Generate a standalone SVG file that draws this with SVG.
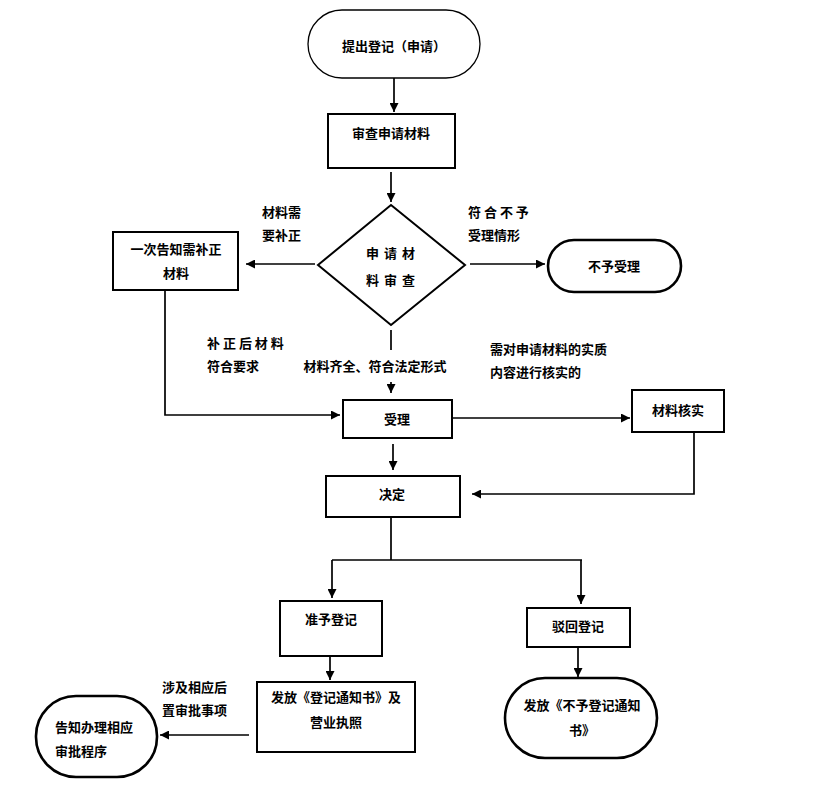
<svg xmlns="http://www.w3.org/2000/svg" width="818" height="801" viewBox="0 0 818 801">
<style>
.b{fill:#fff;stroke:#000;stroke-width:2}
.t{fill:#fff;stroke:#000;stroke-width:2.6}
.s{fill:#fff;stroke:#000;stroke-width:1.3}
text{font-family:"Noto Sans CJK SC","Noto Sans",sans-serif;font-size:13px;font-weight:bold;fill:#000}
.c{text-anchor:middle}
.l{fill:none;stroke:#000;stroke-width:1.7}
</style>
<defs>
<marker id="a" viewBox="0 0 10 10" refX="10" refY="5" markerWidth="9" markerHeight="9" markerUnits="userSpaceOnUse" orient="auto"><path d="M0,0L10,5L0,10z" fill="#000"/></marker>
</defs>
<rect width="818" height="801" fill="#fff"/>
<g id="connectors">
<path class="l" d="M394,78V112" marker-end="url(#a)"/>
<path class="l" d="M391,172V202" marker-end="url(#a)"/>
<path class="l" d="M315,264H246" marker-end="url(#a)"/>
<path class="l" d="M470,264H545" marker-end="url(#a)"/>
<path class="l" d="M391,330V350"/>
<path class="l" d="M391,382V393" marker-end="url(#a)"/>
<path class="l" d="M165,290V415H340" marker-end="url(#a)"/>
<path class="l" d="M452,418H630" marker-end="url(#a)"/>
<path class="l" d="M694,432V494H472" marker-end="url(#a)"/>
<path class="l" d="M393,444V470" marker-end="url(#a)"/>
<path class="l" d="M391,517V560M332,560H582"/>
<path class="l" d="M332,560V598" marker-end="url(#a)"/>
<path class="l" d="M581,560V604" marker-end="url(#a)"/>
<path class="l" d="M330,657V680" marker-end="url(#a)"/>
<path class="l" d="M578,648V677" marker-end="url(#a)"/>
<path class="l" d="M249,735H160" marker-end="url(#a)"/>
</g>
<g id="start"><rect class="s" x="308" y="10" width="172" height="68" rx="34"/><text class="c" x="394" y="51">提出登记（申请）</text></g>
<g id="review"><rect class="b" x="328" y="114" width="127" height="54"/><text class="c" x="391" y="138">审查申请材料</text></g>
<g id="decision"><path class="b" d="M391,205L465,265L391,325L318,265z"/><text class="c" x="391" y="258" style="letter-spacing:1px">申 请 材</text><text class="c" x="391" y="285" style="letter-spacing:1px">料 审 查</text></g>
<g id="supplement"><rect class="b" x="113" y="232" width="125" height="58"/><text class="c" x="176" y="254">一次告知需补正</text><text class="c" x="176" y="278">材料</text></g>
<g id="reject"><rect class="t" x="548" y="240" width="133" height="52" rx="26"/><text class="c" x="614" y="271">不予受理</text></g>
<g id="accept"><rect class="b" x="343" y="400" width="109" height="38"/><text class="c" x="397" y="424">受理</text></g>
<g id="verify"><rect class="b" x="632" y="390" width="92" height="42"/><text class="c" x="678" y="415">材料核实</text></g>
<g id="decide"><rect class="b" x="326" y="476" width="134" height="41"/><text class="c" x="392" y="499">决定</text></g>
<g id="approve"><rect class="b" x="280" y="601" width="102" height="55"/><text class="c" x="331" y="624">准予登记</text></g>
<g id="deny"><rect class="b" x="527" y="608" width="103" height="39"/><text class="c" x="578" y="631">驳回登记</text></g>
<g id="issue"><rect class="b" x="257" y="682" width="158" height="70"/><text class="c" x="336" y="702">发放《登记通知书》及</text><text class="c" x="336" y="727">营业执照</text></g>
<g id="refuse-notice"><rect class="t" x="505" y="678" width="152" height="80" rx="40"/><text class="c" x="582" y="710">发放《不予登记通知</text><text class="c" x="582" y="735">书》</text></g>
<g id="inform"><rect class="t" x="36" y="696" width="121" height="81" rx="40"/><text x="55" y="732">告知办理相应</text><text x="55" y="756">审批程序</text></g>
<g id="labels">
<text x="262" y="217">材料需</text>
<text x="262" y="240">要补正</text>
<text x="468" y="217">符 合 不 予</text>
<text x="468" y="240">受理情形</text>
<text x="207" y="348">补 正 后 材 料</text>
<text x="207" y="371">符合要求</text>
<text class="c" x="375" y="371">材料齐全、符合法定形式</text>
<text x="490" y="354">需对申请材料的实质</text>
<text x="490" y="377">内容进行核实的</text>
<text x="162" y="692">涉及相应后</text>
<text x="162" y="715">置审批事项</text>
</g>
</svg>
